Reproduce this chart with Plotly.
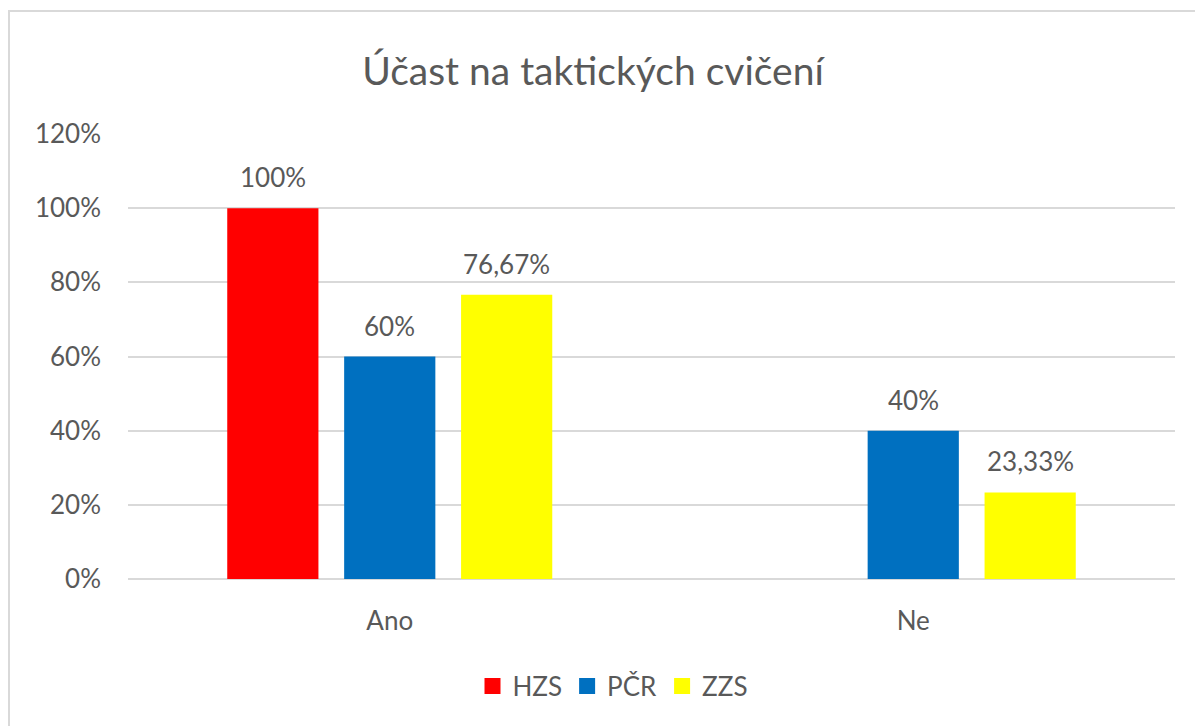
import plotly.graph_objects as go

categories = ["Ano", "Ne"]
series_names = ["HZS", "PČR", "ZZS"]
hzs = [1.0, None]
pcr = [0.60, 0.40]
zzs = [0.7667, 0.2333]
colors = ["#FF0000", "#0070C0", "#FFFF00"]
title = "Účast na taktických cvičení"


def fmt(v):
    s = f"{v*100:.2f}".rstrip("0").rstrip(".")
    return s.replace(".", ",") + "%"


FONT = "Lato, Calibri, sans-serif"
TXT = "#595959"
FS = 26

W, H = 1203, 726
ML, MT, MR, MB = 120, 126, 36, 155
BARGAP, GROUPGAP = 0.33, 0.22
plot_w = W - ML - MR
plot_h = H - MT - MB

fig = go.Figure()
series = [hzs, pcr, zzs]
for name, vals, col in zip(series_names, series, colors):
    fig.add_trace(go.Bar(
        x=categories, y=vals, name=name, marker_color=col,
        marker_line_width=0, showlegend=False,
    ))
    # legend entry with a larger square symbol
    fig.add_trace(go.Scatter(
        x=[None], y=[None], mode="markers", name=name,
        marker=dict(symbol="square", size=16, color=col),
        showlegend=True,
    ))

# data labels as annotations above the bars
slot_px = plot_w / len(categories) * (1 - BARGAP) / len(series)
annotations = []
for i, vals in enumerate(series):
    for cat, v in zip(categories, vals):
        if v is None:
            continue
        annotations.append(dict(
            x=cat, y=v, xref="x", yref="y", text=fmt(v), showarrow=False,
            xanchor="center", yanchor="bottom",
            xshift=(i - (len(series) - 1) / 2) * slot_px, yshift=13,
            font=dict(family=FONT, size=FS, color=TXT),
        ))

fig.update_layout(
    width=W, height=H,
    margin=dict(l=ML, r=MR, t=MT, b=MB),
    paper_bgcolor="white", plot_bgcolor="white",
    barmode="group", bargap=BARGAP, bargroupgap=GROUPGAP,
    title=dict(text=title, x=585 / W, xanchor="center", y=1 - 63 / H, yanchor="middle",
               font=dict(family=FONT, size=39, color=TXT)),
    font=dict(family=FONT, color=TXT, size=FS),
    showlegend=True,
    legend=dict(orientation="h", x=(605 - ML) / plot_w, xanchor="center",
                y=(MT + plot_h - 678) / plot_h, yanchor="middle",
                font=dict(family=FONT, size=FS, color=TXT), traceorder="normal",
                itemsizing="trace"),
    yaxis=dict(range=[0, 1.2], dtick=0.2, tickformat=".0%", showgrid=True,
               gridcolor="#D9D9D9", gridwidth=1.5, zeroline=True, zerolinecolor="#D9D9D9",
               zerolinewidth=1.5, showline=False, ticks="", ticklabelstandoff=26,
               tickfont=dict(family=FONT, size=FS, color=TXT), fixedrange=True),
    xaxis=dict(showgrid=False, showline=False, ticks="", ticklabelstandoff=24,
               tickfont=dict(family=FONT, size=FS, color=TXT), fixedrange=True),
    annotations=annotations,
    shapes=[dict(type="rect", xref="paper", yref="paper",
                 x0=(1 - ML) / plot_w, x1=1.3, y0=-0.8, y1=(MT + plot_h - 3) / plot_h,
                 line=dict(color="#D9D9D9", width=2), fillcolor="rgba(0,0,0,0)",
                 layer="below")],
)

fig.write_html("out.html")
